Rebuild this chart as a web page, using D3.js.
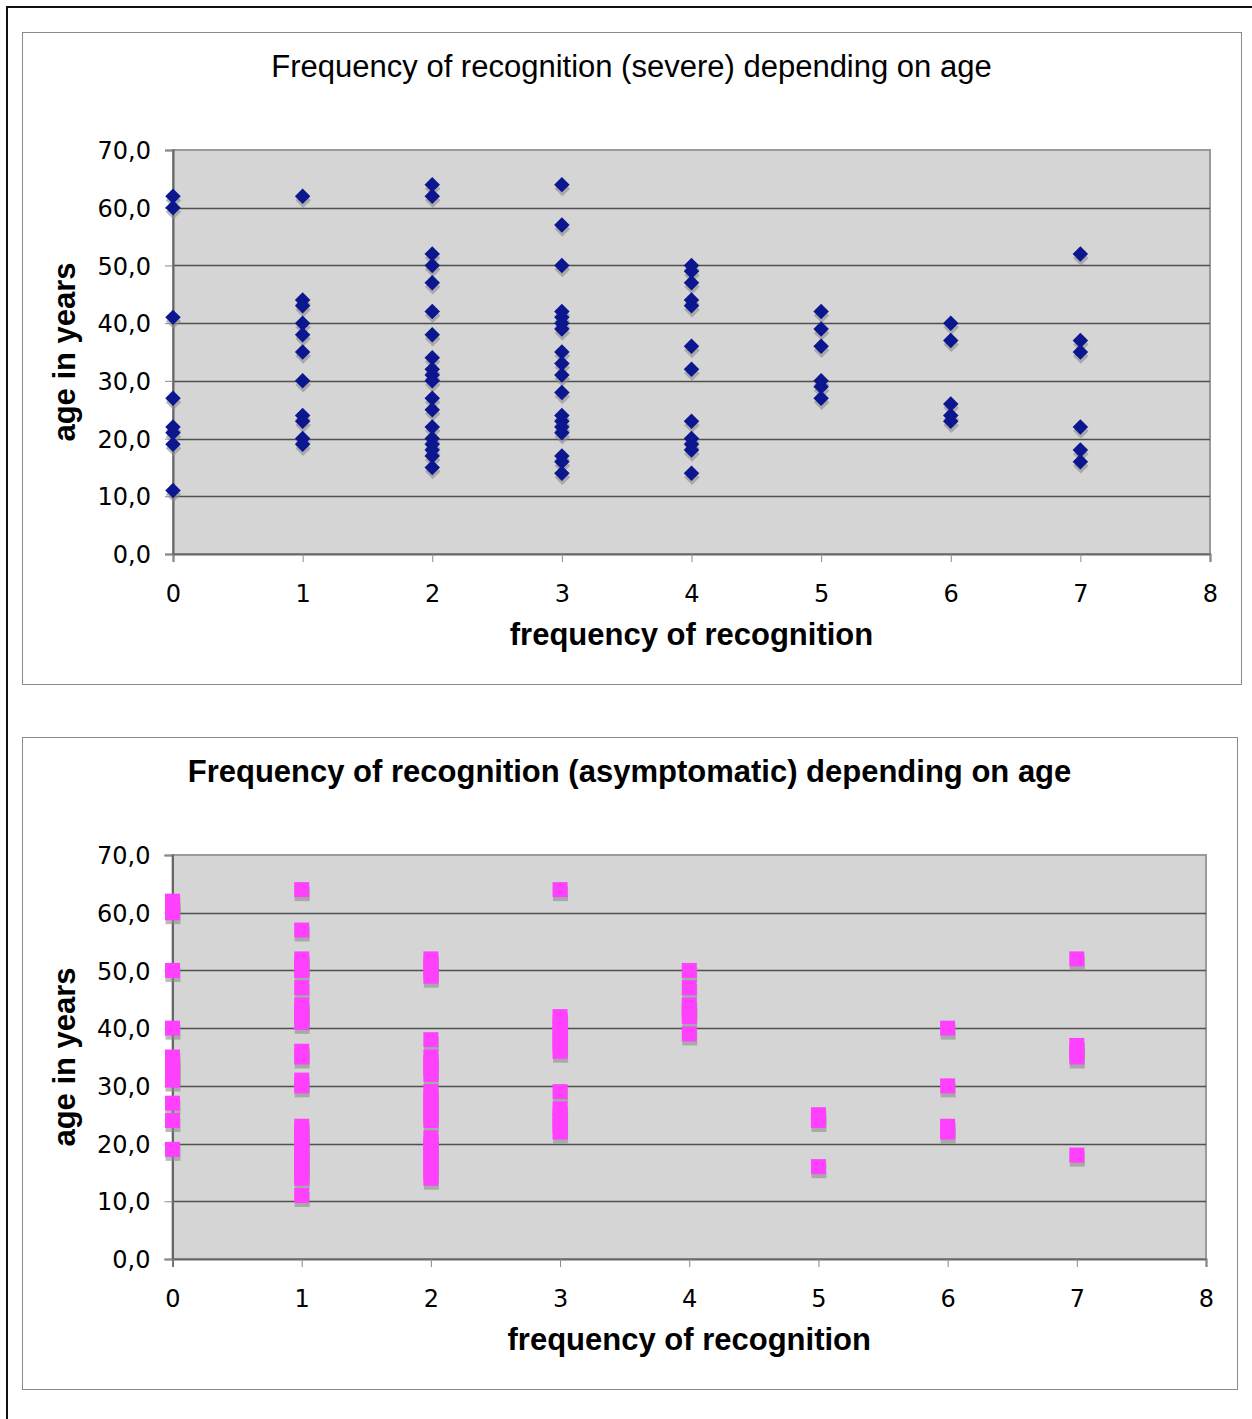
<!DOCTYPE html>
<html>
<head>
<meta charset="utf-8">
<script src="https://cdn.jsdelivr.net/npm/d3@7"></script>
<style>
  body { margin: 0; background: #fff; }
  svg { display: block; }
  .tick text { font-family: "DejaVu Sans", sans-serif; font-size: 24px; fill: #000; }
</style>
</head>
<body>
<div id="chart"></div>
<script>
// x axis: frequency of recognition, y axis: age in years
var xTicks = [0, 1, 2, 3, 4, 5, 6, 7, 8];
var yTicks = [0, 10, 20, 30, 40, 50, 60, 70];

// ages per frequency (index = frequency), severe
var severeAges = [
    [62, 60, 41, 27, 22, 21, 19, 11],
    [62, 44, 43, 40, 38, 35, 30, 24, 23, 20, 19],
    [64, 62, 52, 50, 47, 42, 38, 34, 32, 31, 30, 27, 25, 22, 20, 19, 18, 17, 15],
    [64, 57, 50, 42, 41, 40, 39, 35, 33, 31, 28, 24, 23, 22, 21, 17, 16, 14],
    [50, 49, 47, 44, 43, 36, 32, 23, 20, 19, 18, 14],
    [42, 39, 36, 30, 29, 27],
    [40, 37, 26, 24, 23],
    [52, 37, 35, 22, 18, 16]
];

// ages per frequency (index = frequency), asymptomatic
var asymAges = [
    [62, 61, 60, 50, 40, 35, 34, 33, 32, 31, 27, 24, 19],
    [64, 57, 52, 51, 50, 47, 44, 43, 42, 41, 36, 35, 31, 30, 23, 22, 21, 20, 19, 18, 17, 16, 15, 14, 11],
    [52, 51, 50, 49, 38, 35, 34, 33, 32, 29, 28, 27, 26, 25, 24, 21, 20, 19, 18, 17, 16, 15, 14],
    [64, 42, 41, 40, 39, 38, 37, 36, 29, 26, 25, 24, 23, 22],
    [50, 47, 44, 43, 42, 39],
    [25, 24, 16],
    [40, 30, 23, 22],
    [52, 37, 36, 35, 18]
];

var svgWidth = 1252;
var svgHeight = 1419;

var svg = d3.select("#chart")
    .append("svg")
    .attr("width", svgWidth)
    .attr("height", svgHeight);

// outer frame (top and left edges only)
svg.append("path")
    .attr("d", "M7,1419 V7 H1252")
    .attr("fill", "none")
    .attr("stroke", "#111")
    .attr("stroke-width", 2);

function flatten(ages) {
    var pts = [];
    ages.forEach(function(list, freq) {
        list.forEach(function(age) {
            pts.push({freq: freq, age: age});
        });
    });
    return pts;
}

function drawChart(cfg) {
    // panel box
    svg.append("rect")
        .attr("x", cfg.panel[0] + 0.5)
        .attr("y", cfg.panel[1] + 0.5)
        .attr("width", cfg.panel[2] - cfg.panel[0])
        .attr("height", cfg.panel[3] - cfg.panel[1])
        .attr("fill", "#fff")
        .attr("stroke", "#8a8a8a")
        .attr("stroke-width", 1);

    var left = cfg.plot[0], top = cfg.plot[1], right = cfg.plot[2], bottom = cfg.plot[3];

    var x = d3.scaleLinear().domain([0, 8]).range([left, right]);
    var y = d3.scaleLinear().domain([0, 70]).range([bottom, top]);

    // plot area
    svg.append("rect")
        .attr("x", left)
        .attr("y", top)
        .attr("width", right - left)
        .attr("height", bottom - top)
        .attr("fill", "#d5d5d5")
        .attr("stroke", "#9a9a9a")
        .attr("stroke-width", 2);

    // gridlines
    svg.append("g")
        .selectAll("line")
        .data(yTicks.slice(1, -1))
        .enter()
        .append("line")
        .attr("x1", left)
        .attr("x2", right)
        .attr("y1", d => Math.round(y(d)) + 0.5)
        .attr("y2", d => Math.round(y(d)) + 0.5)
        .attr("stroke", "#505050")
        .attr("stroke-width", 1.3);

    var leftAxis = d3.axisLeft(y)
        .tickValues(yTicks)
        .tickSize(8)
        .tickPadding(14)
        .tickFormat(d => d.toFixed(1).replace(".", ","));

    var bottomAxis = d3.axisBottom(x)
        .tickValues(xTicks)
        .tickSize(8)
        .tickPadding(23)
        .tickFormat(d => d);

    var yAxisG = svg.append("g")
        .attr("transform", `translate(${left}, 0)`)
        .call(leftAxis);
    var xAxisG = svg.append("g")
        .attr("transform", `translate(0, ${bottom})`)
        .call(bottomAxis);

    [yAxisG, xAxisG].forEach(function(g) {
        g.select(".domain").attr("stroke", "#666").attr("stroke-width", 2);
        g.selectAll(".tick line").attr("stroke", "#888").attr("stroke-width", 1);
    });
    yAxisG.selectAll(".tick text").attr("dy", "0.36em");
    xAxisG.selectAll(".tick text").attr("dy", "0.72em");

    // markers
    var pts = flatten(cfg.ages);
    var sym = d3.symbol().type(cfg.shape).size(cfg.size);
    var rot = cfg.rotate ? " rotate(45)" : "";

    svg.append("g")
        .selectAll("path")
        .data(pts)
        .enter()
        .append("path")
        .attr("d", sym)
        .attr("transform", d => `translate(${x(d.freq) + 0.5}, ${y(d.age) + 4})` + rot)
        .attr("fill", "#8c8c8c")
        .attr("opacity", 0.6);

    svg.append("g")
        .selectAll("path")
        .data(pts)
        .enter()
        .append("path")
        .attr("d", sym)
        .attr("transform", d => `translate(${x(d.freq)}, ${y(d.age)})` + rot)
        .attr("fill", cfg.color);

    // titles
    svg.append("text")
        .attr("x", (cfg.panel[0] + cfg.panel[2]) / 2)
        .attr("y", cfg.panel[1] + 45)
        .attr("text-anchor", "middle")
        .attr("font-family", "Liberation Sans, Arial, sans-serif")
        .attr("font-size", 31)
        .attr("font-weight", cfg.titleWeight)
        .text(cfg.title);

    svg.append("text")
        .attr("x", (left + right) / 2)
        .attr("y", bottom + 91)
        .attr("text-anchor", "middle")
        .attr("font-family", "Liberation Sans, Arial, sans-serif")
        .attr("font-size", 31)
        .attr("font-weight", "bold")
        .text("frequency of recognition");

    svg.append("text")
        .attr("transform", `translate(75, ${(top + bottom) / 2}) rotate(-90)`)
        .attr("text-anchor", "middle")
        .attr("font-family", "Liberation Sans, Arial, sans-serif")
        .attr("font-size", 31)
        .attr("font-weight", "bold")
        .text("age in years");
}

drawChart({
    panel: [22, 32, 1241, 684],
    plot: [173, 150, 1210, 554],
    ages: severeAges,
    shape: d3.symbolSquare,
    rotate: true,
    size: 120,
    color: "#0c168e",
    title: "Frequency of recognition (severe) depending on age",
    titleWeight: "normal"
});

drawChart({
    panel: [22, 737, 1237, 1389],
    plot: [172.5, 855, 1206, 1259],
    ages: asymAges,
    shape: d3.symbolSquare,
    rotate: false,
    size: 225,
    color: "#ff40ff",
    title: "Frequency of recognition (asymptomatic) depending on age",
    titleWeight: "bold"
});
</script>
</body>
</html>
